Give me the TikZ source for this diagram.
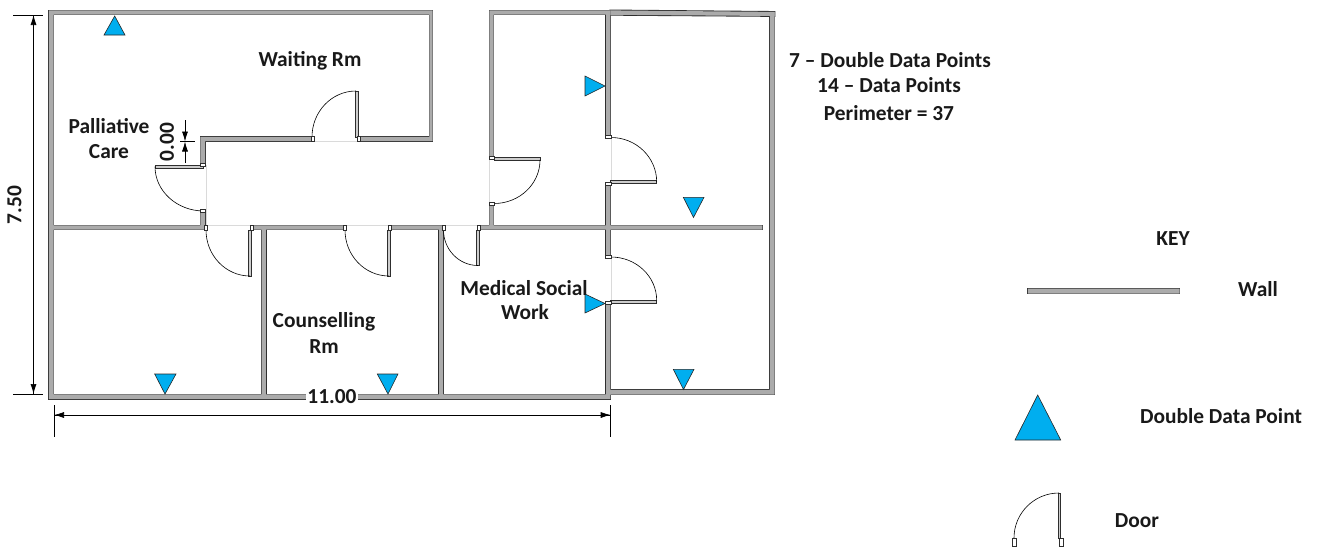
\documentclass[tikz,border=0pt]{standalone}
\usepackage{fontspec}
\setmainfont{Carlito}
\usetikzlibrary{arrows.meta}
\definecolor{wallgray}{HTML}{ABABAB}
\definecolor{walledge}{HTML}{2E2E2E}
\definecolor{dpblue}{HTML}{00AEEF}
\definecolor{sill}{HTML}{DADADA}
\newcommand{\WallPath}{
 (48.9,10.4) rectangle (432.6,14.6)
 (48.9,10.4) rectangle (53.6,399.1)
 (429.4,10.4) rectangle (432.6,141.1)
 (359.4,136.9) rectangle (432.6,141.1)
 (200.4,136.9) rectangle (311.3,141.1)
 (200.4,136.9) rectangle (205.1,163.6)
 (200.4,210.4) rectangle (205.1,229.6)
 (48.9,225.4) rectangle (205.1,229.6)
 (251.4,225.4) rectangle (344.6,229.6)
 (390.4,225.4) rectangle (443.6,229.6)
 (478.4,225.4) rectangle (762.3,229.6)
 (261.7,225.4) rectangle (265.9,399)
 (439.1,225.4) rectangle (443.1,399)
 (48.9,394.4) rectangle (610.3,399.1)
 (489.4,10.4) rectangle (610.3,14.6)
 (489.4,10.4) rectangle (493.6,157.6)
 (489.4,203.9) rectangle (493.6,229.6)
 (606.1,10.4) rectangle (610.3,136.6)
 (606.1,183.4) rectangle (610.3,256.6)
 (606.1,303.4) rectangle (610.3,399.1)
 (769.9,11.9) rectangle (774.6,394.6)
 (610.3,389.9) rectangle (774.6,394.6)
 (1027.9,288.7) rectangle (1179.6,293.6)
}
\newcommand{\TopRight}{(610.3,10.4) -- (610.3,14.8) -- (774.6,16) -- (774.6,11.9) -- cycle}
\newcommand{\JambA}[2]{\draw[jambmark] (#1-2.6,#2-1.6) rectangle (#1+2.6,#2+1.6);}
\newcommand{\JambB}[2]{\draw[jambmark] (#1-1.6,#2-2.6) rectangle (#1+1.6,#2+2.6);}
\tikzset{
 x=1pt,y=-1pt,
 jambmark/.style={draw=walledge,line width=.6pt,fill=white},
 leaf/.style={draw=walledge,line width=.6pt,fill=wallgray!60},
 swing/.style={draw=black,line width=.6pt},
 sillline/.style={draw=sill,line width=.7pt},
 dp/.style={draw=black!85,line width=.6pt,fill=dpblue,line join=miter},
 lbl/.style={font=\bfseries\fontsize{21.4}{23}\selectfont,text=black!90,inner sep=0pt,align=center},
 dim/.style={draw=black,line width=.7pt},
 dimarrow/.style={dim,-{Latex[length=10pt,width=6pt]}},
}
\begin{document}
\begin{tikzpicture}
\useasboundingbox (0,0) rectangle (1320,547);
% sills
\draw[sillline] (206,165) -- (206,225) (206,225) -- (251,225) (345,225) -- (390,225) (444,225) -- (478,225)
 (312,141.5) -- (358,141.5) (489,158) -- (489,204) (611.3,137) -- (611.3,183) (611.3,257) -- (611.3,303);
% walls: outline of the union, then the fill over it
\draw[walledge,line width=1.7pt] \WallPath;
\draw[walledge,line width=1.7pt] \TopRight;
\fill[wallgray] \WallPath;
\fill[wallgray] \TopRight;
% door leaves
\draw[leaf] (155,165) rectangle (203,167.8);
\draw[leaf] (355,91) rectangle (357.8,137);
\draw[leaf] (248.5,230) rectangle (251.3,276);
\draw[leaf] (387.5,230) rectangle (390.3,276);
\draw[leaf] (476.5,230) rectangle (479.3,265.5);
\draw[leaf] (494,157.5) rectangle (540,160.3);
\draw[leaf] (610.5,180.7) rectangle (656.7,183.5);
\draw[leaf] (610.5,300) rectangle (656.7,302.8);
\draw[leaf] (1058,493) rectangle (1060.5,538);
% door swings
\draw[swing] (155,166.5) arc[start angle=180,end angle=90,x radius=49,y radius=44.5];
\draw[swing] (356,91) arc[start angle=-90,end angle=-180,x radius=44,y radius=46];
\draw[swing] (206,230) arc[start angle=180,end angle=90,x radius=44,y radius=46];
\draw[swing] (345,230) arc[start angle=180,end angle=90,x radius=44,y radius=46];
\draw[swing] (443.5,230) arc[start angle=180,end angle=90,x radius=34.5,y radius=35.5];
\draw[swing] (540,160) arc[start angle=0,end angle=90,x radius=46,y radius=43.5];
\draw[swing] (611,137.5) arc[start angle=-90,end angle=0,x radius=45.7,y radius=44.5];
\draw[swing] (611,257) arc[start angle=-90,end angle=0,x radius=45.7,y radius=43.5];
\draw[swing] (1059,493) arc[start angle=-90,end angle=-180,x radius=45,y radius=45];
% jambs
\JambA{202.8}{165}\JambA{202.8}{211}
\JambB{312.5}{139}\JambB{358.5}{139}
\JambB{206}{227.5}\JambB{252}{227.5}
\JambB{345}{227.5}\JambB{390}{227.5}
\JambB{443.5}{227.5}\JambB{479}{227.5}
\JambA{491.5}{157.5}\JambA{491.5}{203.5}
\JambA{608.2}{137}\JambA{608.2}{183.5}
\JambA{608.2}{257}\JambA{608.2}{303}
\draw[jambmark] (1012.5,538) rectangle (1016,546);
\draw[jambmark] (1059.5,538) rectangle (1063,546);
% data points
\draw[dp] (114.7,16) -- (125,35) -- (104,35) -- cycle;
\draw[dp] (605,86) -- (585,76) -- (585,96) -- cycle;
\draw[dp] (693.5,217.5) -- (683.3,197.3) -- (704,197.3) -- cycle;
\draw[dp] (605,303.5) -- (585,294) -- (585,313) -- cycle;
\draw[dp] (683.5,389.5) -- (673.3,369.3) -- (694,369.3) -- cycle;
\draw[dp] (165,394) -- (154.7,374) -- (176,374) -- cycle;
\draw[dp] (388,394) -- (377.3,374) -- (398,374) -- cycle;
\draw[dp] (1037.7,395) -- (1060.7,440) -- (1015,440) -- cycle;
% dimensions
\coordinate (vt) at (33.5,15);
\coordinate (vb) at (33.5,394);
\coordinate (hl) at (54,415);
\coordinate (hr) at (610.7,415);
\coordinate (zt) at (185,120);
\coordinate (zm) at (185,141.5);
\coordinate (zb) at (185,163);
\draw[dimarrow] (vb) -- (vt);
\draw[dimarrow] (vt) -- (vb);
\draw[dim] (13,15) -- (43,15) (13,394) -- (43,394);
\draw[dimarrow] (hl) -- (hr);
\draw[dimarrow] (hr) -- (hl);
\draw[dim] (54,405) -- (54,436.7) (610.7,405) -- (610.7,436.7);
\draw[dimarrow] (zt) -- (zm);
\draw[dimarrow] (zb) -- (zm);
\draw[dim] (180,141.5) -- (195,141.5);
\node[lbl,fill=white,inner xsep=1pt,inner ysep=0pt] (d11) at (332,397) {11.00};
\node[lbl,rotate=90] (d75) at (14.5,205) {7.50};
\node[lbl,rotate=90] (d00) at (167,142) {0.00};
% labels
\node[lbl] (waiting) at (310,61) {Waiting Rm};
\node[lbl] (palliative) at (109,126) {Palliative};
\node[lbl] (care) at (109,152) {Care};
\node[lbl] (couns) at (324,322) {Counselling};
\node[lbl] (counsr) at (324,347) {Rm};
\node[lbl] (medical) at (524,288) {Medical Social};
\node[lbl] (work) at (525,312) {Work};
\node[lbl] (n1) at (890,60) {7 – Double Data Points};
\node[lbl] (n2) at (889,85) {14 – Data Points};
\node[lbl] (n3) at (889,113) {Perimeter = 37};
\node[lbl] (key) at (1173,239) {KEY};
\node[lbl] (kwall) at (1258,289) {Wall};
\node[lbl] (kdp) at (1221,416) {Double Data Point};
\node[lbl] (kdoor) at (1137,521) {Door};
\end{tikzpicture}
\end{document}
